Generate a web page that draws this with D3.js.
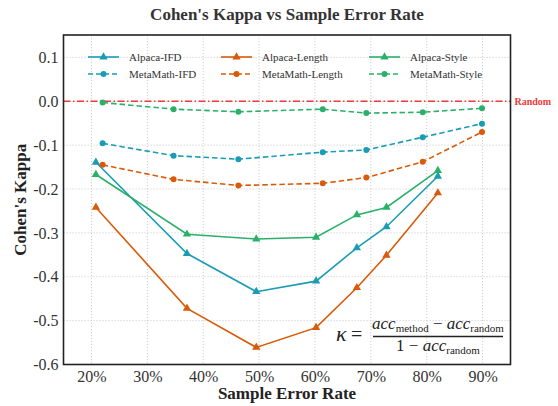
<!DOCTYPE html>
<html><head><meta charset="utf-8">
<script src="https://cdn.jsdelivr.net/npm/d3@7/dist/d3.min.js"></script>
<style>body{margin:0;background:#fff}svg{display:block}</style>
</head><body><svg id="c" width="558" height="406"></svg>
<script>
const alpacaX = [20.8, 37.1, 49.5, 60.2, 67.5, 72.8, 82.0];
const metaX = [22.0, 34.7, 46.3, 61.4, 69.2, 79.3, 89.9];
const alpacaIFD = [-0.139, -0.347, -0.434, -0.410, -0.334, -0.286, -0.171];
const alpacaLength = [-0.242, -0.472, -0.561, -0.516, -0.425, -0.351, -0.209];
const alpacaStyle = [-0.167, -0.303, -0.314, -0.310, -0.259, -0.242, -0.158];
const metaIFD = [-0.096, -0.124, -0.132, -0.116, -0.111, -0.082, -0.051];
const metaLength = [-0.145, -0.178, -0.192, -0.187, -0.174, -0.138, -0.070];
const metaStyle = [-0.003, -0.018, -0.024, -0.018, -0.027, -0.025, -0.016];
const xTicks = [20, 30, 40, 50, 60, 70, 80, 90];
const yTicks = [0.1, 0.0, -0.1, -0.2, -0.3, -0.4, -0.5, -0.6];
const seriesNames = ["Alpaca-IFD", "Alpaca-Length", "Alpaca-Style", "MetaMath-IFD", "MetaMath-Length", "MetaMath-Style"];

const colors = {IFD: "#1a9cb4", Length: "#d95a09", Style: "#2bb06a"};
const series = [
  {name: seriesNames[0], xs: alpacaX, ys: alpacaIFD, c: colors.IFD, dash: false},
  {name: seriesNames[1], xs: alpacaX, ys: alpacaLength, c: colors.Length, dash: false},
  {name: seriesNames[2], xs: alpacaX, ys: alpacaStyle, c: colors.Style, dash: false},
  {name: seriesNames[3], xs: metaX, ys: metaIFD, c: colors.IFD, dash: true},
  {name: seriesNames[4], xs: metaX, ys: metaLength, c: colors.Length, dash: true},
  {name: seriesNames[5], xs: metaX, ys: metaStyle, c: colors.Style, dash: true}
];

const svg = d3.select("#c");
const L = 63.5, R = 510.5, T = 35, B = 364.5;
const x = d3.scaleLinear().domain([15, 95]).range([L, R]);
const y = d3.scaleLinear().domain([-0.6, 0.151]).range([B, T]);
const serif = "'Liberation Serif','Times New Roman',serif";

// grid
svg.append("g").selectAll("line").data(xTicks).join("line")
  .attr("x1", d => x(d)).attr("x2", d => x(d)).attr("y1", T).attr("y2", B)
  .attr("stroke", "#cfcfcf").attr("stroke-width", 1).attr("stroke-dasharray", "1.2,1.8");
svg.append("g").selectAll("line").data(yTicks).join("line")
  .attr("x1", L).attr("x2", R).attr("y1", d => y(d)).attr("y2", d => y(d))
  .attr("stroke", "#cfcfcf").attr("stroke-width", 1).attr("stroke-dasharray", "1.2,1.8");

// axes
const xAxis = svg.append("g").attr("transform", `translate(0,${B})`)
  .call(d3.axisBottom(x).tickValues(xTicks).tickFormat(d => d + "%").tickSize(0).tickPadding(6));
const yAxis = svg.append("g").attr("transform", `translate(${L},0)`)
  .call(d3.axisLeft(y).tickValues(yTicks).tickFormat(d => d3.format(".1f")(d).replace("−", "-")).tickSize(0).tickPadding(5));
[xAxis, yAxis].forEach(a => {
  a.attr("font-family", serif);
  a.select(".domain").remove();
  a.selectAll("text").attr("font-family", serif).attr("font-size", 16).attr("fill", "#333");
});

// random line
svg.append("line").attr("x1", L).attr("x2", R).attr("y1", y(0)).attr("y2", y(0))
  .attr("stroke", "#ee3b3b").attr("stroke-width", 1.3).attr("stroke-dasharray", "7,2.5,1.5,2.5");
svg.append("text").attr("x", R + 4).attr("y", y(0) + 3.5).text("Random")
  .attr("font-family", serif).attr("font-weight", "bold").attr("font-size", 10).attr("fill", "#ee3b3b");

// lines
const tri = d3.symbol().type(d3.symbolTriangle).size(30);
series.forEach(s => {
  const pts = s.xs.map((v, i) => [v, s.ys[i]]);
  svg.append("path").datum(pts)
    .attr("d", d3.line().x(d => x(d[0])).y(d => y(d[1])))
    .attr("fill", "none").attr("stroke", s.c).attr("stroke-width", 1.6)
    .attr("stroke-dasharray", s.dash ? "5.5,3" : null);
  if (s.dash) {
    svg.append("g").selectAll("circle").data(pts).join("circle")
      .attr("cx", d => x(d[0])).attr("cy", d => y(d[1])).attr("r", 3).attr("fill", s.c);
  } else {
    svg.append("g").selectAll("path").data(pts).join("path")
      .attr("d", tri).attr("transform", d => `translate(${x(d[0])},${y(d[1])})`).attr("fill", s.c);
  }
});

// frame
svg.append("rect").attr("x", L).attr("y", T).attr("width", R - L).attr("height", B - T)
  .attr("fill", "none").attr("stroke", "#222").attr("stroke-width", 1.6);

// legend
const legX = [88, 221, 369], legY = [57, 74];
series.forEach((s, i) => {
  const col = i % 3, row = Math.floor(i / 3);
  const g = svg.append("g").attr("transform", `translate(${legX[col]},${legY[row]})`);
  g.append("line").attr("x1", 0).attr("x2", 31).attr("y1", 0).attr("y2", 0)
    .attr("stroke", s.c).attr("stroke-width", 1.6).attr("stroke-dasharray", s.dash ? "5,3" : null);
  if (s.dash) g.append("circle").attr("cx", 15.5).attr("cy", 0).attr("r", 3).attr("fill", s.c);
  else g.append("path").attr("d", tri).attr("transform", "translate(15.5,0)").attr("fill", s.c);
  g.append("text").attr("x", 41).attr("y", 4).text(s.name)
    .attr("font-family", serif).attr("font-size", 11).attr("fill", "#333");
});

// titles
svg.append("text").attr("x", (L + R) / 2).attr("y", 20).attr("text-anchor", "middle")
  .attr("font-family", serif).attr("font-weight", "bold").attr("font-size", 17).attr("fill", "#333")
  .text("Cohen's Kappa vs Sample Error Rate");
svg.append("text").attr("x", (L + R) / 2).attr("y", 399).attr("text-anchor", "middle")
  .attr("font-family", serif).attr("font-weight", "bold").attr("font-size", 17).attr("fill", "#222")
  .text("Sample Error Rate");
svg.append("text").attr("transform", `translate(26,${(T + B) / 2}) rotate(-90)`).attr("text-anchor", "middle")
  .attr("font-family", serif).attr("font-weight", "bold").attr("font-size", 17).attr("fill", "#222")
  .text("Cohen's Kappa");

// formula
const f = svg.append("g").attr("font-family", serif).attr("fill", "#222");
f.append("text").attr("x", 336).attr("y", 341).attr("font-size", 22).attr("font-style", "italic").text("κ");
f.append("text").attr("x", 351).attr("y", 341).attr("font-size", 20).text("=");
const num = f.append("text").attr("x", 438).attr("y", 329).attr("text-anchor", "middle").attr("font-size", 17);
num.append("tspan").attr("font-style", "italic").text("acc");
num.append("tspan").attr("font-size", 11).attr("dy", 3).text("method");
num.append("tspan").attr("dy", -3).text(" − ");
num.append("tspan").attr("font-style", "italic").text("acc");
num.append("tspan").attr("font-size", 11).attr("dy", 3).text("random");
f.append("line").attr("x1", 373).attr("x2", 503).attr("y1", 336.5).attr("y2", 336.5).attr("stroke", "#222").attr("stroke-width", 1.4);
const den = f.append("text").attr("x", 438).attr("y", 351).attr("text-anchor", "middle").attr("font-size", 17);
den.append("tspan").text("1 − ");
den.append("tspan").attr("font-style", "italic").text("acc");
den.append("tspan").attr("font-size", 11).attr("dy", 3).text("random");
</script></body></html>
